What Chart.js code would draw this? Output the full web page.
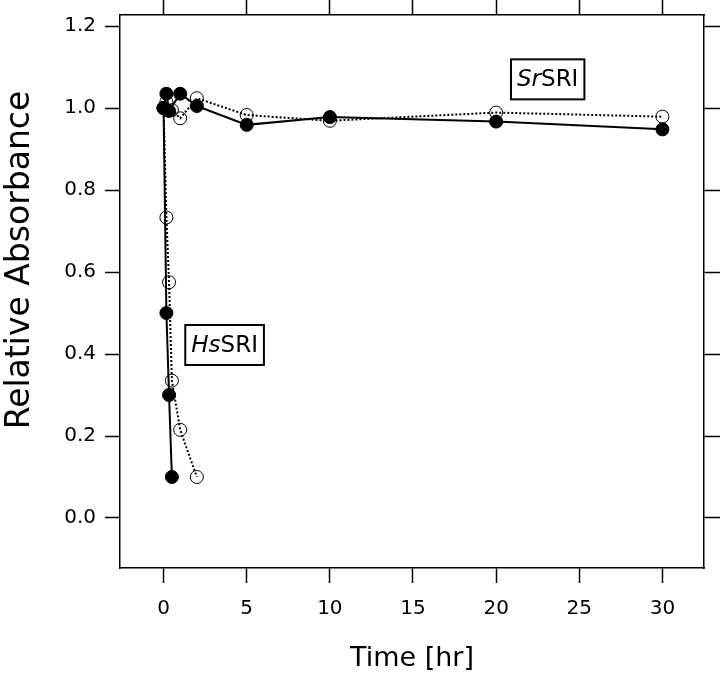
<!DOCTYPE html>
<html>
<head>
<meta charset="utf-8">
<script src="https://cdn.jsdelivr.net/npm/chart.js@4/dist/chart.umd.min.js"></script>
<style>
  html, body { margin: 0; padding: 0; background: #fff; }
  canvas { display: block; }
</style>
</head>
<body>
<canvas id="c" width="720" height="675"></canvas>
<script>
// ---- data ----
const xTicks = [0, 5, 10, 15, 20, 25, 30];
const yTicks = [0.0, 0.2, 0.4, 0.6, 0.8, 1.0, 1.2];

const srFilledTime = [0, 0.17, 0.33, 1, 2, 5, 10, 20, 30];
const srFilledValue = [1.0, 1.035, 0.993, 1.035, 1.005, 0.959, 0.978, 0.967, 0.948];

const srOpenTime = [0, 0.17, 0.5, 1, 2, 5, 10, 20, 30];
const srOpenValue = [1.0, 1.015, 0.995, 0.975, 1.024, 0.983, 0.969, 0.989, 0.979];

const hsFilledTime = [0, 0.17, 0.33, 0.5];
const hsFilledValue = [1.0, 0.50, 0.30, 0.10];

const hsOpenTime = [0, 0.17, 0.33, 0.5, 1, 2];
const hsOpenValue = [1.0, 0.733, 0.575, 0.335, 0.215, 0.10];

const labelTexts = [
  { italic: 'Hs', plain: 'SRI', x: 3.67, y: 0.422 },
  { italic: 'Sr', plain: 'SRI', x: 23.1, y: 1.07 }
];

const xTitle = 'Time [hr]';
const yTitle = '      Relative Absorbance';

const xRange = { min: -2.62, max: 32.5 };
const yRange = { min: -0.122, max: 1.227 };

// ---- helpers ----
const pts = (xs, ys) => xs.map((x, i) => ({ x: x, y: ys[i] }));
const FONT = 'DejaVu Sans';

function filledSet(xs, ys) {
  return {
    data: pts(xs, ys), showLine: true, borderColor: '#000', borderWidth: 2,
    pointRadius: 6.5, pointBackgroundColor: '#000', pointBorderColor: '#000',
    pointBorderWidth: 1, order: 0
  };
}
function openSet(xs, ys) {
  return {
    data: pts(xs, ys), showLine: true, borderColor: '#000', borderWidth: 2,
    borderDash: [2, 2],
    pointRadius: 6.5, pointBackgroundColor: 'rgba(0,0,0,0)', pointBorderColor: '#000',
    pointBorderWidth: 1, order: 1
  };
}

const boxLabels = {
  id: 'boxLabels',
  afterDatasetsDraw(chart) {
    const ctx = chart.ctx;
    const xs = chart.scales.x, ys = chart.scales.y;
    ctx.save();
    labelTexts.forEach(l => {
      const cx = xs.getPixelForValue(l.x);
      const cy = ys.getPixelForValue(l.y);
      const size = 23;
      ctx.font = 'italic ' + size + 'px "' + FONT + '"';
      const w1 = ctx.measureText(l.italic).width;
      ctx.font = size + 'px "' + FONT + '"';
      const w2 = ctx.measureText(l.plain).width;
      const tw = w1 + w2;
      const bw = tw + 12, bh = 40;
      ctx.fillStyle = '#fff';
      ctx.fillRect(cx - bw / 2, cy - bh / 2, bw, bh);
      ctx.strokeStyle = '#000';
      ctx.lineWidth = 2;
      ctx.strokeRect(cx - bw / 2, cy - bh / 2, bw, bh);
      ctx.fillStyle = '#000';
      ctx.textBaseline = 'middle';
      ctx.textAlign = 'left';
      ctx.font = 'italic ' + size + 'px "' + FONT + '"';
      ctx.fillText(l.italic, cx - tw / 2, cy + 1);
      ctx.font = size + 'px "' + FONT + '"';
      ctx.fillText(l.plain, cx - tw / 2 + w1, cy + 1);
    });
    ctx.restore();
  }
};

const axisCommon = {
  type: 'linear',
  border: { display: true, color: '#000', width: 1.5 },
  grid: { drawOnChartArea: false, drawTicks: true, tickLength: 15, tickColor: '#000', tickWidth: 1.5, color: '#000' }
};

function noPad(s) {
  s.paddingTop = 0; s.paddingBottom = 0; s.paddingLeft = 0; s.paddingRight = 0;
}

new Chart(document.getElementById('c'), {
  type: 'scatter',
  data: {
    datasets: [
      filledSet(hsFilledTime, hsFilledValue),
      filledSet(srFilledTime, srFilledValue),
      openSet(hsOpenTime, hsOpenValue),
      openSet(srOpenTime, srOpenValue)
    ]
  },
  options: {
    responsive: false,
    animation: false,
    layout: { padding: 0 },
    plugins: { legend: { display: false }, tooltip: { enabled: false } },
    scales: {
      x: Object.assign({}, axisCommon, {
        position: 'bottom', min: xRange.min, max: xRange.max,
        afterBuildTicks: s => { s.ticks = xTicks.map(v => ({ value: v })); },
        ticks: { color: '#000', padding: 14, font: { family: FONT, size: 20 }, callback: v => String(v) },
        title: { display: true, text: xTitle, color: '#000', font: { family: FONT, size: 27 }, padding: { top: 0, bottom: 0 } },
        afterFit: s => { s.height = 107; noPad(s); }
      }),
      x2: Object.assign({}, axisCommon, {
        position: 'top', min: xRange.min, max: xRange.max,
        afterBuildTicks: s => { s.ticks = xTicks.map(v => ({ value: v })); },
        ticks: { display: false },
        afterFit: s => { s.height = 15; noPad(s); }
      }),
      y: Object.assign({}, axisCommon, {
        position: 'left', min: yRange.min, max: yRange.max,
        afterBuildTicks: s => { s.ticks = yTicks.map(v => ({ value: v })); },
        ticks: { color: '#000', padding: 9, font: { family: FONT, size: 20 }, callback: v => v.toFixed(1) },
        title: { display: true, text: yTitle, color: '#000', font: { family: FONT, size: 33 }, padding: { top: 1, bottom: 0 } },
        afterFit: s => { s.width = 120; noPad(s); }
      }),
      y2: Object.assign({}, axisCommon, {
        position: 'right', min: yRange.min, max: yRange.max,
        afterBuildTicks: s => { s.ticks = yTicks.map(v => ({ value: v })); },
        ticks: { display: false },
        grid: Object.assign({}, axisCommon.grid, { tickLength: 16 }),
        afterFit: s => { s.width = 16; noPad(s); }
      })
    }
  },
  plugins: [boxLabels]
});
</script>
</body>
</html>
